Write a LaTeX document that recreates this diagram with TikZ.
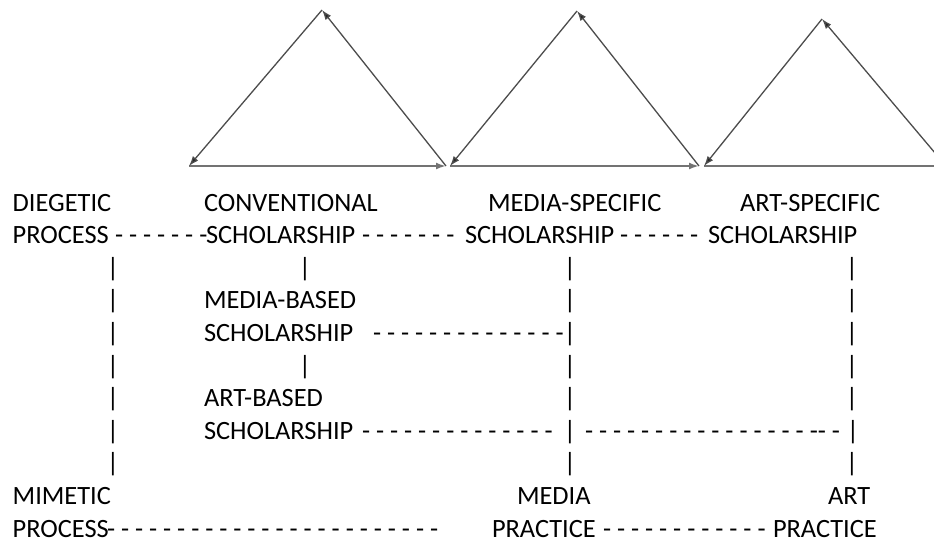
\documentclass[tikz,border=0pt]{standalone}
\usepackage{fontspec}
\setmainfont{Carlito}[Ligatures=TeXOff]
\usetikzlibrary{arrows.meta}
\begin{document}
\begin{tikzpicture}[x=1pt,y=-1pt,
  lbl/.style={anchor=base west,inner sep=0pt,outer sep=0pt,font=\fontsize{26.4}{32}\selectfont},
  bar/.style={anchor=base,inner sep=0pt,outer sep=0pt,font=\fontsize{26.4}{32}\selectfont},
  tip/.style={-{Latex[length=10pt,width=7pt,fill=black!85]}},
  side/.style={draw=black!70,line width=1.3pt,tip},
  baseline/.style={draw=black!55,line width=2.2pt,tip}]
\useasboundingbox (0,0) rectangle (934,543);
\clip (0,0) rectangle (934,543);
% triangles
\coordinate (A1) at (322,10);
\coordinate (L1) at (189,166);
\coordinate (R1) at (446,166);
\coordinate (A2) at (577,11);
\coordinate (L2) at (450,166);
\coordinate (R2) at (699,166);
\coordinate (A3) at (822,19);
\coordinate (L3) at (704,166);
\coordinate (R3) at (946,166);
\coordinate (E3) at (960,166);
\draw[baseline] (L1) -- (R1);
\draw[baseline] (L2) -- (R2);
\draw[draw=black!55,line width=2.2pt] (L3) -- (E3);
\draw[side] (A1) -- (L1);
\draw[side] (R1) -- (A1);
\draw[side] (A2) -- (L2);
\draw[side] (R2) -- (A2);
\draw[side] (A3) -- (L3);
\draw[side] (R3) -- (A3);
% row 1
\node[lbl] (diegetic) at (12.7,211) {DIEGETIC};
\node[lbl] (conv) at (204,211) {CONVENTIONAL};
\node[lbl] (medspec) at (488,211) {MEDIA-SPECIFIC};
\node[lbl] (artspec) at (740,211) {ART-SPECIFIC};
% row 2
\node[lbl] (process1) at (12.7,243.6) {PROCESS};
\node[lbl] (d21) at (115,243.6) {- - - - - - -};
\node[lbl] (convsch) at (206,243.6) {SCHOLARSHIP};
\node[lbl] (d22) at (362,243.6) {- - - - - - -};
\node[lbl] (medsch) at (465,243.6) {SCHOLARSHIP};
\node[lbl] (d23) at (620,243.6) {- - - - - -};
\node[lbl] (artsch) at (708,243.6) {SCHOLARSHIP};
% row 3
\node[bar] (p31) at (113,276.2) {|};
\node[bar] (p32) at (305,276.2) {|};
\node[bar] (p33) at (570,276.2) {|};
\node[bar] (p34) at (852,276.2) {|};
% row 4
\node[bar] (p41) at (113,308.8) {|};
\node[lbl] (medbased) at (204,308.8) {MEDIA-BASED};
\node[bar] (p43) at (570,308.8) {|};
\node[bar] (p44) at (852,308.8) {|};
% row 5
\node[bar] (p51) at (113,341.4) {|};
\node[lbl] (medbsch) at (204,341.4) {SCHOLARSHIP};
\node[lbl] (d51) at (373,341.4) {- - - - - - - - - - - - - -};
\node[bar] (p53) at (570,341.4) {|};
\node[bar] (p54) at (852,341.4) {|};
% row 6
\node[bar] (p61) at (113,374) {|};
\node[bar] (p62) at (305,374) {|};
\node[bar] (p63) at (570,374) {|};
\node[bar] (p64) at (852,374) {|};
% row 7
\node[bar] (p71) at (113,406.6) {|};
\node[lbl] (artbased) at (204,406.6) {ART-BASED};
\node[bar] (p73) at (570,406.6) {|};
\node[bar] (p74) at (852,406.6) {|};
% row 8
\node[bar] (p81) at (113,439.2) {|};
\node[lbl] (artbsch) at (204,439.2) {SCHOLARSHIP};
\node[lbl] (d81) at (362,439.2) {- - - - - - - - - - - - - -};
\node[bar] (p83) at (570,439.2) {|};
\node[lbl] (d82) at (585,439.2) {- - - - - - - - - - - - - - - - -- -};
\node[bar] (p84) at (853,439.2) {|};
% row 9
\node[bar] (p91) at (113,471.8) {|};
\node[bar] (p93) at (570,471.8) {|};
\node[bar] (p94) at (852,471.8) {|};
% row 10
\node[lbl] (mimetic) at (12.7,504.4) {MIMETIC};
\node[lbl] (media) at (517,504.4) {MEDIA};
\node[lbl] (art) at (828,504.4) {ART};
% row 11
\node[lbl] (process2) at (12.7,537) {PROCESS};
\node[lbl] (d111) at (107,537) {- - - - - - - - - - - - - - - - - - - - - - - -};
\node[lbl] (medprac) at (492,537) {PRACTICE};
\node[lbl] (d112) at (603,537) {- - - - - - - - - - - -};
\node[lbl] (artprac) at (773,537) {PRACTICE};
\end{tikzpicture}
\end{document}
